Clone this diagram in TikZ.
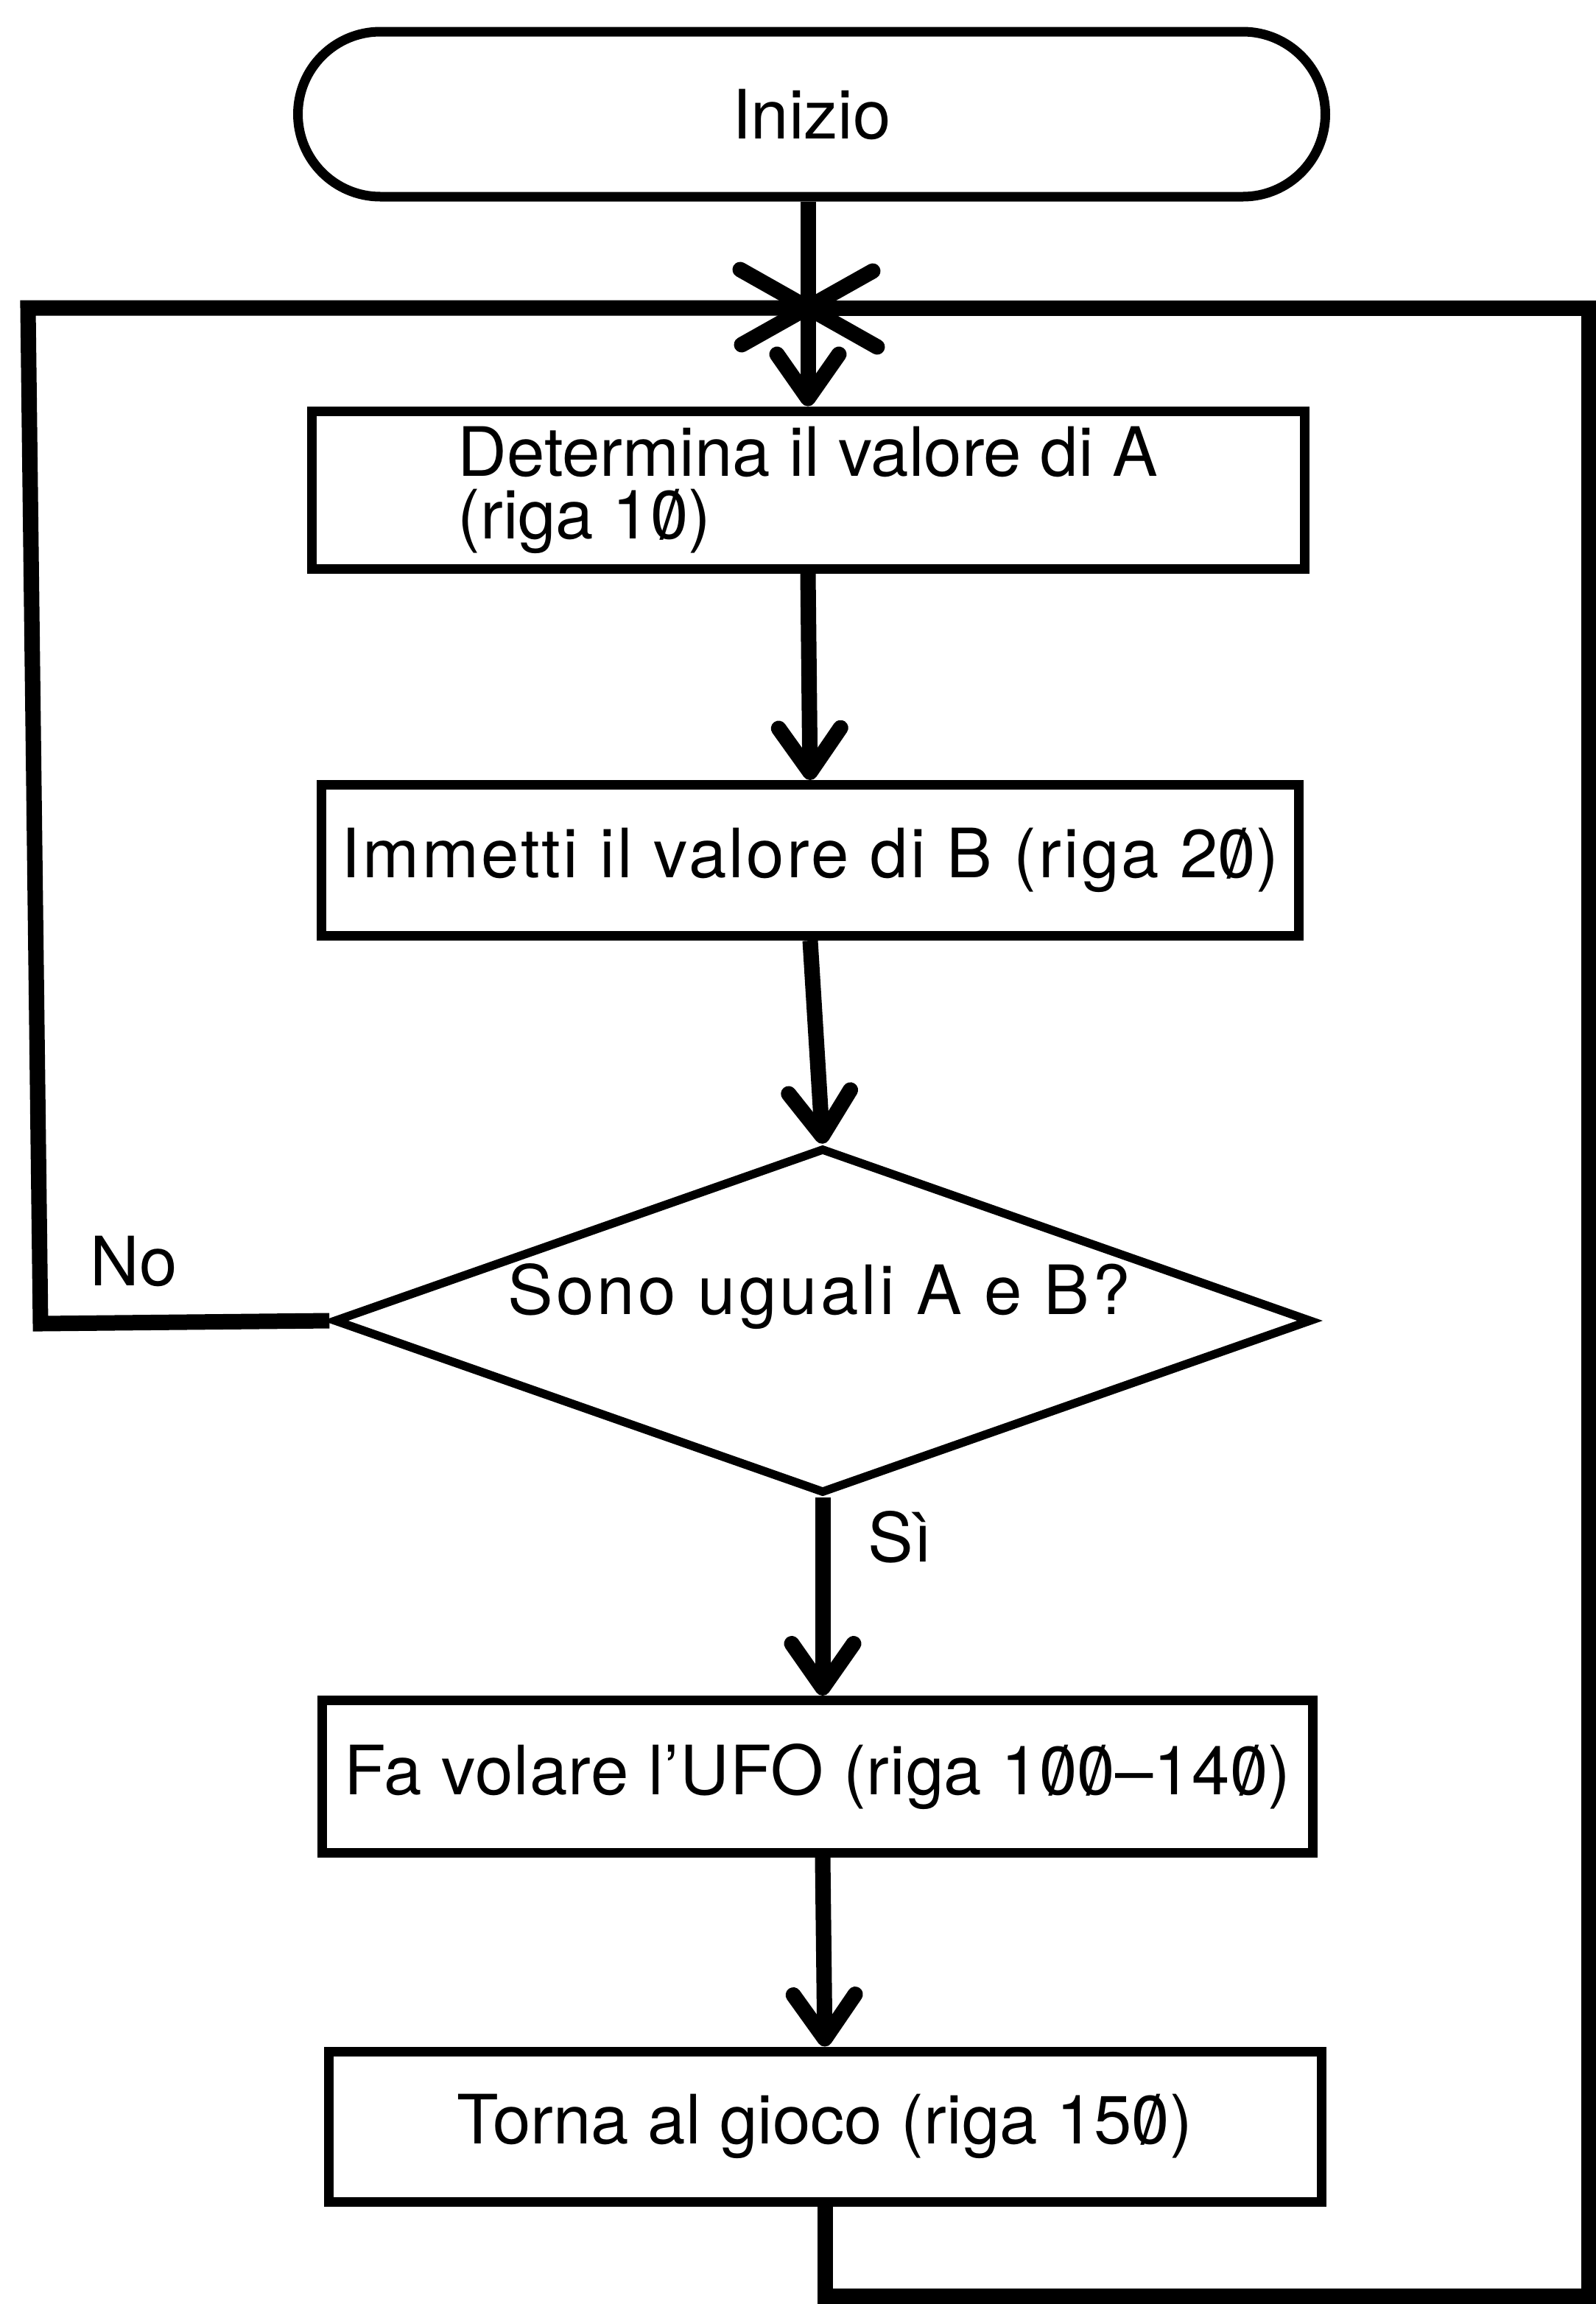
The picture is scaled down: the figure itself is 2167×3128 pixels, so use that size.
\documentclass[tikz,border=0pt]{standalone}
\usepackage{fontspec}
\setmainfont{TeX Gyre Heros}
% looser settings used by some of the labels
\newfontfamily\looseone[LetterSpace=1]{TeX Gyre Heros}
\newfontfamily\loosethree[LetterSpace=3.5]{TeX Gyre Heros}
\newfontfamily\loosefour[LetterSpace=4.5]{TeX Gyre Heros}
\usetikzlibrary{arrows.meta,shapes.geometric,shapes.misc}

% slashed zero, as printed by the listing
\newcommand{\zs}{\ooalign{0\cr\hidewidth/\hidewidth\cr}}

\tikzset{
  txt/.style={font=\fontsize{26.3}{24.2}\selectfont},
  term/.style={draw, rounded rectangle, line width=1.3mm, fill=white, inner sep=0pt, txt},
  stepbox/.style={draw, rectangle, line width=1.3mm, fill=white, inner sep=0pt, align=left, txt},
  decide/.style={draw, diamond, line width=1.15mm, fill=white, inner sep=0pt},
  flow/.style={line width=2.1mm},
  arr/.style={flow, -{Straight Barb[length=6mm, width=8.4mm, line width=2.1mm, round]}},
  xmark/.style={line width=2.1mm, line cap=round},
}

\begin{document}
\begin{tikzpicture}[x=0.1mm, y=-0.1mm]
  \fill[white] (0,0) rectangle (2167,3128);
  \useasboundingbox (0,0) rectangle (2167,3128);

  % blocks of the flowchart
  \node[term, minimum width=139.5mm, minimum height=22.4mm] (ini) at (1102,155) {Inizio};
  \node[stepbox, minimum width=134.8mm, minimum height=21.4mm] (b1) at (1097,665)
       {Determina il valore di A\\(riga 1\zs)};
  \node[stepbox, minimum width=132.7mm, minimum height=20.5mm] (b2) at (1100,1168)
       {\loosethree Immetti il valore di B (riga 2\zs)};
  \node[decide, minimum width=132.8mm, minimum height=46.9mm] (dia) at (1117,1793) {};
  \node[txt] (q) at (1112,1760) {\loosefour Sono uguali A e B?};
  \node[stepbox, minimum width=134.5mm, minimum height=20.7mm] (b3) at (1110,2412)
       {\looseone Fa volare l’UFO (riga 1\zs\zs–14\zs)};
  \node[stepbox, minimum width=134.8mm, minimum height=20.4mm] (b4) at (1120,2887)
       {Torna al gioco (riga 15\zs)};

  % branch labels
  \node[txt, anchor=base west] (no) at (110,1745) {No};
  \node[txt, anchor=base west] (si) at (1166,2120) {Sì};

  % junction and corners of the loop
  \coordinate (J) at (1097,418);
  \coordinate (tl) at (38,418);
  \coordinate (bl) at (55,1797);
  \coordinate (tr) at (2157,418);
  \coordinate (br) at (2157,3117);

  % return paths into the junction
  \draw[flow] (dia.west) -- (bl) -- (tl) -- (J);
  \draw[flow] (b4.south) -- (b4.south |- br) -- (br) -- (tr) -- (J);

  % main flow
  \draw[arr] (ini.south -| J) -- (b1.north -| J);
  \draw[arr] (b1.south) -- (b2.north);
  \draw[arr] (b2.south) -- (dia.north);
  \draw[arr] (dia.south) -- (dia.south |- b3.north);
  \draw[arr] (b3.south -| dia.south) -- (b4.north);

  % junction cross
  \draw[xmark] ([shift={(-92,-52)}]J) -- ([shift={(94,53)}]J);
  \draw[xmark] ([shift={(88,-50)}]J) -- ([shift={(-90,50)}]J);
\end{tikzpicture}
\end{document}
